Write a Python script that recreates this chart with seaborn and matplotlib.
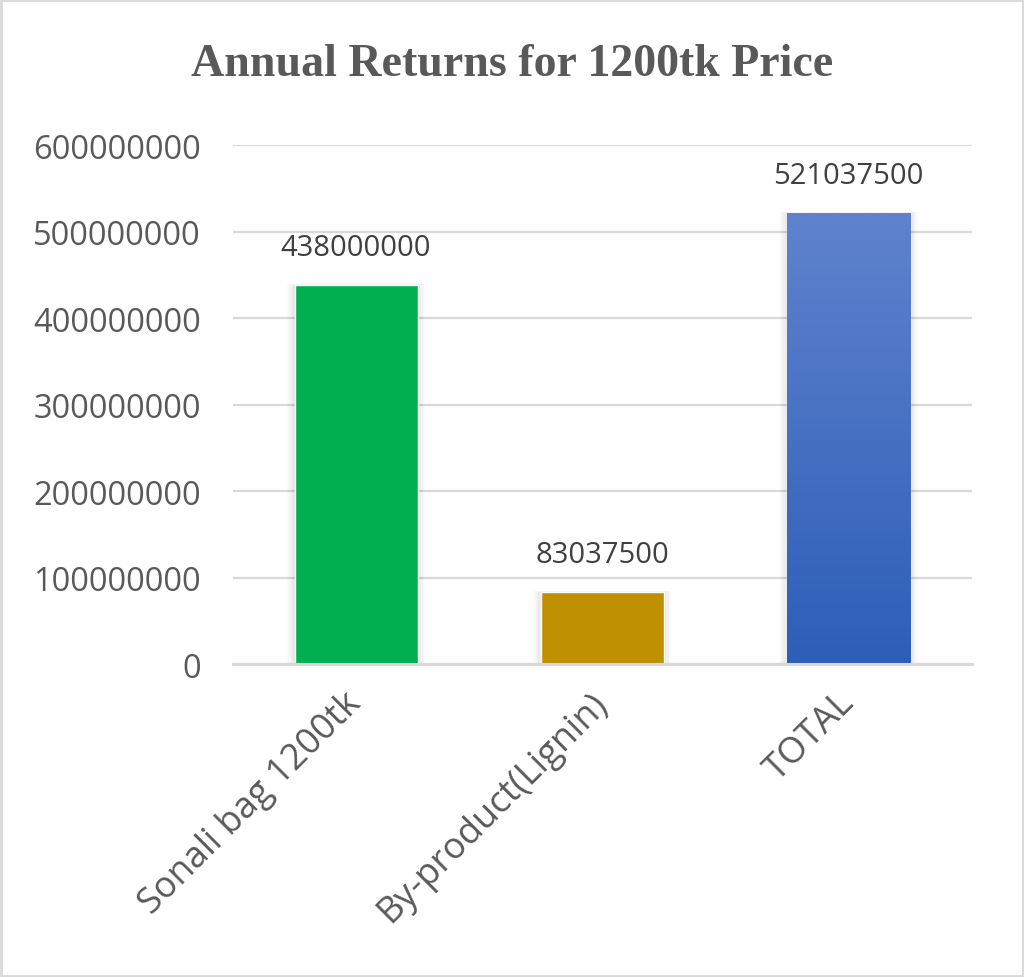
import numpy as np
import pandas as pd
import matplotlib
matplotlib.use("Agg")
import matplotlib.pyplot as plt
import seaborn as sns
from matplotlib.colors import LinearSegmentedColormap
from matplotlib.patches import Rectangle

categories = ["Sonali bag 1200tk", "By-product(Lignin)", "TOTAL"]
returns = [438000000, 83037500, 521037500]
bar_colors = ["#00B050", "#BF9000", "#4472C4"]
yticks = [0, 100000000, 200000000, 300000000, 400000000, 500000000, 600000000]

df = pd.DataFrame({"item": categories, "value": returns})

sns.set_theme(style="white")
plt.rcParams["font.family"] = ["Open Sans", "DejaVu Sans"]

fig = plt.figure(figsize=(10.24, 9.78), dpi=100)
ax = fig.add_axes([0.2275, 0.320, 0.7215, 0.5307])

sns.barplot(data=df, x="item", y="value", hue="item", palette=bar_colors,
            width=0.5, legend=False, ax=ax, saturation=1)

# gradient fill on TOTAL bar
cmap = LinearSegmentedColormap.from_list("blu", ["#2D5EB8", "#5F83CD"])
bar = ax.patches[2]
x0, y0 = bar.get_x(), bar.get_y()
w, h = bar.get_width(), bar.get_height()
grad = np.linspace(0, 1, 256).reshape(-1, 1)
im = ax.imshow(grad, cmap=cmap, origin="lower", aspect="auto",
               extent=[x0, x0 + w, y0, y0 + h], zorder=bar.get_zorder() + 0.1)
im.set_clip_path(bar)
ax.set_xlim(-0.5, 2.5)

# soft shadow on the sides of the bars
for p in list(ax.patches[:3]):
    for k in range(1, 7):
        d = 0.005 * k
        sh = Rectangle((p.get_x() - d, 0), p.get_width() + 2 * d,
                       p.get_height() + d * 0.5e8, color="#000000", alpha=0.014,
                       lw=0, zorder=p.get_zorder() - 0.05)
        ax.add_patch(sh)

ax.set_ylim(0, 600000000)
ax.set_yticks(yticks)
ax.set_yticklabels([str(t) for t in yticks])
ax.yaxis.grid(True, color="#D9D9D9", lw=1.6)
ax.set_axisbelow(True)
for s in ["top", "right", "left"]:
    ax.spines[s].set_visible(False)
ax.spines["bottom"].set_color("#D9D9D9")
ax.spines["bottom"].set_linewidth(2.2)
ax.spines["bottom"].set_zorder(5)
ax.tick_params(axis="y", labelsize=23.5, colors="#595959", length=0, pad=23)
ax.tick_params(axis="x", labelsize=26, colors="#595959", length=0, pad=24)
for lbl in ax.get_xticklabels():
    lbl.set_rotation(45)
    lbl.set_ha("right")
    lbl.set_rotation_mode("anchor")
    lbl.set_va("center")
ax.set_xlabel("")
ax.set_ylabel("")

for i, v in enumerate(returns):
    ax.annotate(str(v), (i, v), xytext=(0, 17), textcoords="offset points",
                ha="center", va="bottom", fontsize=21, color="#404040")

fig.text(0.5, 0.934, "Annual Returns for 1200tk Price", ha="center", va="center",
         fontsize=33, fontweight="bold", color="#595959", family="Liberation Serif")

fig.patches.append(Rectangle((0.001, 0.001), 0.998, 0.998, transform=fig.transFigure,
                             fill=False, edgecolor="#D9D9D9", lw=2))

fig.savefig("out.png", dpi=100)
